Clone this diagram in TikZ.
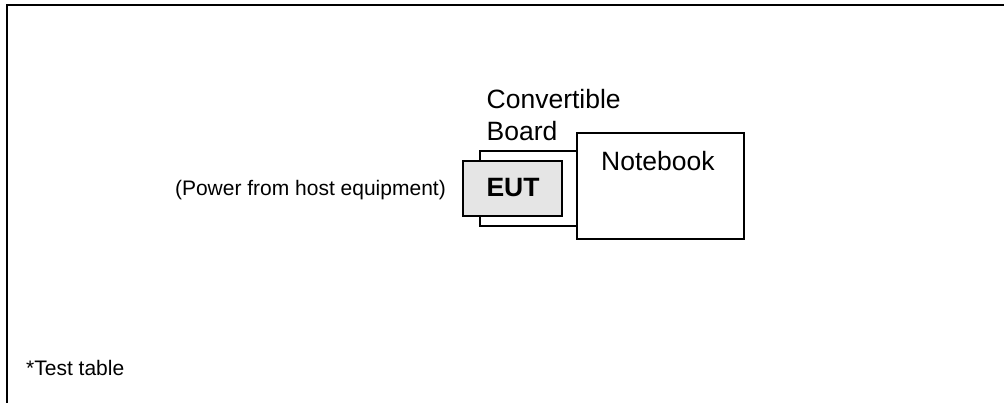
\documentclass[tikz,border=0pt]{standalone}
\usepackage{fontspec}
\setmainfont{Liberation Sans}
\begin{document}
\begin{tikzpicture}[x=1pt,y=-1pt,
  box/.style={draw=black,line width=1.1pt,inner sep=0pt,outer sep=0pt,rectangle},
  bigtxt/.style={inner sep=0pt,font=\fontsize{26.5}{32}\selectfont},
  smalltxt/.style={inner sep=0pt,font=\fontsize{21}{25}\selectfont}]
\useasboundingbox (0,0) rectangle (1004,403);
% frame
\coordinate (fbl) at (7,403);
\coordinate (ftl) at (7,5);
\coordinate (ftr) at (1004,5);
\draw[line width=1.4pt] (fbl) -- (ftl) -- (ftr);
% boxes
\node[box,fill=white,minimum width=97pt,minimum height=75pt] (board) at (528.5,188.5) {};
\node[box,fill=black!10,minimum width=99pt,minimum height=55pt] (eut) at (512.5,188.5) {};
\node[box,fill=white,minimum width=167pt,minimum height=106pt] (notebook) at (660.5,186) {};
% texts
\node[bigtxt,anchor=base west] (conv) at (486.5,108.3) {Convertible};
\node[bigtxt,anchor=base west] (boardlbl) at (486.5,140.7) {Board};
\node[bigtxt,anchor=base west] (nblbl) at (601,170.7) {Notebook};
\node[bigtxt,anchor=base,font=\fontsize{26.5}{32}\selectfont\bfseries] (eutlbl) at (513,196.7) {EUT};
\node[smalltxt,anchor=base east] (power) at (446,195.3) {(Power from host equipment)};
\node[smalltxt,anchor=base west] (table) at (26,375) {*Test table};
\end{tikzpicture}
\end{document}
